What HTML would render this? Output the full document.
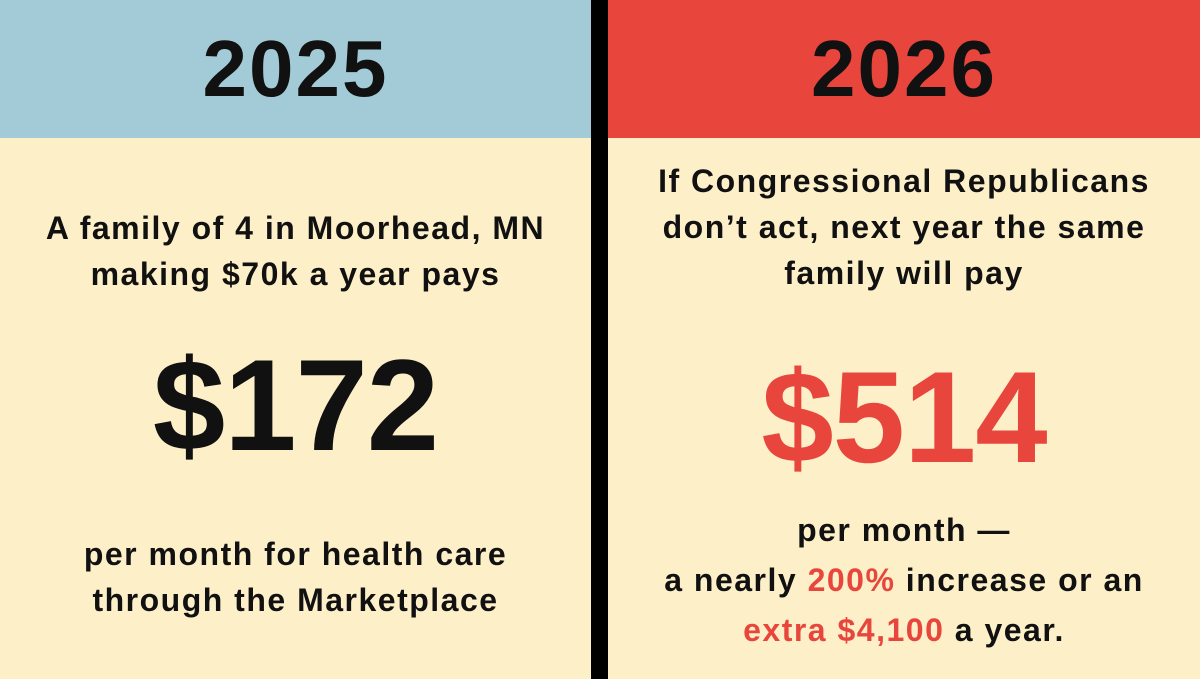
<!DOCTYPE html>
<html><head><meta charset="utf-8"><style>
html,body{margin:0;padding:0;width:1200px;height:679px;overflow:hidden;background:#fdf0c9;font-family:"Liberation Sans","DejaVu Sans",sans-serif;}
.panel{position:absolute;top:0;height:679px;background:#fdf0c9;}
.hdr{position:absolute;left:0;top:0;width:100%;height:138px;display:flex;align-items:center;justify-content:center;font-weight:900;font-size:80px;color:#111;letter-spacing:2px;}
.t{position:absolute;left:0;width:100%;text-align:center;font-weight:bold;color:#111;font-size:32px;letter-spacing:1.5px;line-height:46px;}
.big{position:absolute;left:0;width:100%;text-align:center;font-weight:900;font-size:130px;line-height:130px;letter-spacing:-1px;}
.red{color:#e8463d;}
</style></head><body>
<div class="panel" style="left:0;width:591px;">
  <div class="hdr" style="background:#a3cad7;">2025</div>
  <div class="t" style="top:205px;">A family of 4 in Moorhead, MN<br>making $70k a year pays</div>
  <div class="big" style="top:340px;color:#111;">$172</div>
  <div class="t" style="top:531px;">per month for health care<br>through the Marketplace</div>
</div>
<div style="position:absolute;left:591px;top:0;width:17px;height:679px;background:#000;"></div>
<div class="panel" style="left:608px;width:592px;">
  <div class="hdr" style="background:#e8463d;">2026</div>
  <div class="t" style="top:158px;">If Congressional Republicans<br>don’t act, next year the same<br>family will pay</div>
  <div class="big red" style="top:352px;">$514</div>
  <div class="t" style="top:505px;line-height:50px;">per month —<br>a nearly <span class="red">200%</span> increase or an<br><span class="red">extra $4,100</span> a year.</div>
</div>
</body></html>
